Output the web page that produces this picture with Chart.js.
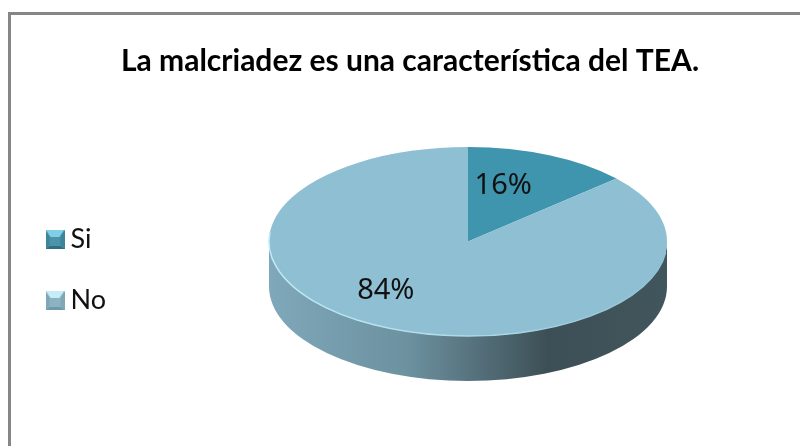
<!DOCTYPE html>
<html>
<head>
<meta charset="utf-8">
<script src="https://cdn.jsdelivr.net/npm/chart.js@4"></script>
<style>
  html, body { margin: 0; background: #fff; overflow: hidden; }
  #chart { position: absolute; left: 0; top: 0; filter: blur(0.4px); }
  .marco { position: absolute; left: 8px; top: 12px; right: 0; bottom: 0; border-left: 3px solid #868686; border-top: 3px solid #868686; }
</style>
</head>
<body>
<div class="marco"></div>
<canvas id="chart" width="800" height="446"></canvas>
<script>
// Datos
const categorias = ["Si", "No"];
const porcentajes = [16, 84];            // lo que dicen las etiquetas
const porcionVista = [13.4, 86.6];       // lo que ocupa cada porcion en el disco inclinado del original
const colores = ["#3f94ae", "#8fbfd2"];
const titulo = "La malcriadez es una característica del TEA.";

// Vista 3D
const aplastado = 0.475;
const grosor = 45;
const ajusteEtiquetas = [[-16, -1.5], [-31, -5]];

// Cuadrito con bisel para la leyenda
function cuadrito(base, claro, lado, oscuro) {
    const c = document.createElement("canvas");
    c.width = 19; c.height = 19;
    const g = c.getContext("2d");
    const tri = (col, pts) => {
        g.fillStyle = col;
        g.beginPath();
        pts.forEach((p, i) => i ? g.lineTo(p[0], p[1]) : g.moveTo(p[0], p[1]));
        g.closePath();
        g.fill();
    };
    g.fillStyle = base;
    g.fillRect(0, 0, 19, 19);
    tri(claro, [[0, 0], [19, 0], [14, 7], [5, 7]]);
    tri(lado, [[0, 0], [4, 6], [4, 15], [0, 19]]);
    tri(lado, [[19, 0], [15, 6], [15, 15], [19, 19]]);
    tri(oscuro, [[0, 19], [19, 19], [15, 16], [4, 16]]);
    return c;
}
const iconos = [
    cuadrito("#4b93a9", "#7fd0e6", "#3e8499", "#2f6f84"),
    cuadrito("#8db3c2", "#c6ecf6", "#7fa7b7", "#6f99aa")
];

const vista3d = {
    id: "vista3d",
    afterLayout(chart) {
        // el area del disco, el titulo y la leyenda van donde estan en el original
        chart.chartArea = { left: 269, right: 667, top: 42.5, bottom: 440.5, width: 398, height: 398 };
        chart.titleBlock.left = 0;
        chart.titleBlock.right = 820;
        chart.legend.left = 19;
        chart.legend.right = 260;
        chart.legend.top = 192;
        chart.legend.bottom = 500;
    },
    beforeDatasetsDraw(chart) {
        const ctx = chart.ctx;
        const arco = chart.getDatasetMeta(0).data[0];
        const { x, y, outerRadius: r } = arco.getProps(["x", "y", "outerRadius"]);
        const ry = r * aplastado;

        // pared lateral
        const grad = ctx.createLinearGradient(x - r, 0, x + r, 0);
        grad.addColorStop(0, "#7fa8ba");
        grad.addColorStop(0.35, "#6c919f");
        grad.addColorStop(0.7, "#3d4f56");
        grad.addColorStop(1, "#41565c");
        ctx.save();
        ctx.beginPath();
        ctx.ellipse(x, y, r, ry, 0, Math.PI, 0, true);
        ctx.lineTo(x + r, y + grosor);
        ctx.ellipse(x, y + grosor, r, ry, 0, 0, Math.PI);
        ctx.closePath();
        ctx.fillStyle = grad;
        ctx.fill();
        ctx.restore();

        // disco aplastado
        ctx.save();
        ctx.translate(0, y);
        ctx.scale(1, aplastado);
        ctx.translate(0, -y);
    },
    afterDatasetsDraw(chart) {
        const ctx = chart.ctx;
        ctx.restore();
        const arcos = chart.getDatasetMeta(0).data;
        const { x, y, outerRadius: r } = arcos[0].getProps(["x", "y", "outerRadius"]);
        const ry = r * aplastado;

        // brillo del borde
        const brillo = ctx.createLinearGradient(x - r, 0, x + r, 0);
        brillo.addColorStop(0, "#bfeaf6");
        brillo.addColorStop(0.6, "#a9d6e4");
        brillo.addColorStop(1, "#8fbfd2");
        ctx.beginPath();
        ctx.ellipse(x, y, r, ry, 0, 0.12, Math.PI + 0.1);
        ctx.strokeStyle = brillo;
        ctx.lineWidth = 1.5;
        ctx.stroke();

        // etiquetas de porcentaje
        ctx.fillStyle = "#111";
        ctx.font = "29px 'Noto Sans'";
        ctx.textAlign = "center";
        ctx.textBaseline = "middle";
        arcos.forEach((arco, i) => {
            const { startAngle, endAngle } = arco.getProps(["startAngle", "endAngle"]);
            const medio = (startAngle + endAngle) / 2;
            const px = x + 0.63 * r * Math.cos(medio) + ajusteEtiquetas[i][0];
            const py = y + 0.63 * ry * Math.sin(medio) + ajusteEtiquetas[i][1];
            ctx.fillText(porcentajes[i] + "%", px, py);
        });
    }
};

const myChart = new Chart(document.getElementById("chart").getContext("2d"), {
    type: "pie",
    plugins: [vista3d],
    data: {
        labels: categorias,
        datasets: [{
            data: porcionVista,
            backgroundColor: colores,
            borderWidth: 0,
            clip: false
        }]
    },
    options: {
        responsive: false,
        animation: false,
        plugins: {
            tooltip: { enabled: false },
            title: {
                display: true,
                text: titulo,
                color: "#000",
                font: { family: "Lato", size: 30, weight: "bold" },
                padding: { top: 43, bottom: 0 }
            },
            legend: {
                position: "left",
                align: "start",
                labels: {
                    usePointStyle: true,
                    boxWidth: 4,
                    boxHeight: 27,
                    padding: 34,
                    color: "#111",
                    font: { family: "Lato", size: 27 },
                    generateLabels(chart) {
                        const base = Chart.overrides.pie.plugins.legend.labels.generateLabels(chart);
                        return base.map((item, i) => ({ ...item, pointStyle: iconos[i] }));
                    }
                }
            }
        }
    }
});
</script>
</body>
</html>
